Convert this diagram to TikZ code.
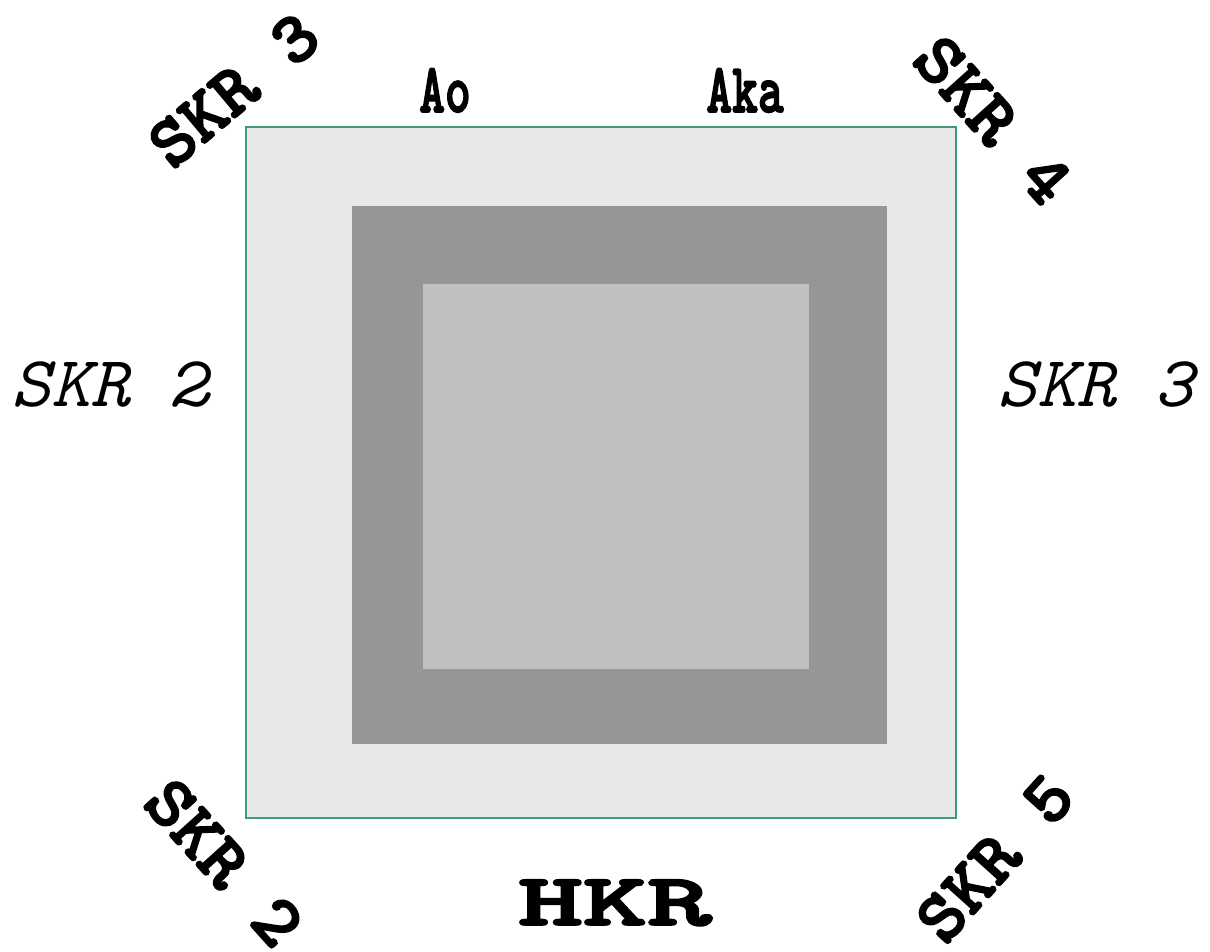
\documentclass[tikz,border=0pt]{standalone}
\usepackage{fontspec}
\usepackage{xcolor}
\newfontfamily\skrital{lmmono10-italic.otf}
\newfontfamily\skrbold{lmmonolt10-bold.otf}[FakeBold=2.5]
\definecolor{ringgreen}{RGB}{62,156,110}
\definecolor{outergray}{RGB}{232,232,232}
\definecolor{midgray}{RGB}{150,150,150}
\definecolor{innergray}{RGB}{192,192,192}

\begin{document}
\begin{tikzpicture}[x=1pt, y=-1pt,
  sidelbl/.style={inner sep=0pt, xscale=1.04,
                  font=\skrital\fontsize{72}{84}\selectfont},
  cornerlbl/.style={inner sep=0pt, font=\skrbold\fontsize{72}{84}\selectfont},
  toplbl/.style={inner sep=0pt, anchor=base, xscale=0.7,
                 font=\skrbold\fontsize{70}{82}\selectfont},
  baselbl/.style={inner sep=0pt, anchor=base, xscale=1.66,
                  font=\skrbold\fontsize{74}{88}\selectfont},
]
\useasboundingbox (0,0) rectangle (1210,951);

% Squares, outer to inner
\draw[ringgreen, line width=1.5pt, fill=outergray] (246,127) rectangle (956,818);
\fill[midgray]   (352,206) rectangle (887,744);
\fill[innergray] (423,284) rectangle (809,669);

% Top labels
\node[toplbl] (ao)  at (445,112) {Ao};
\node[toplbl] (aka) at (745,112) {Aka};

% Side labels
\node[sidelbl] (skrleft)  at (110,384) {SKR 2};
\node[sidelbl] (skrright) at (1096,384) {SKR 3};

% Corner labels
\node[cornerlbl, rotate=40, xscale=1.05]  (skrtl) at (234,90)  {SKR 3};
\node[cornerlbl, rotate=-48, xscale=1.05] (skrtr) at (993,120) {SKR 4};
\node[cornerlbl, rotate=-48, xscale=1.05] (skrbl) at (224,863) {SKR 2};
\node[cornerlbl, rotate=48, xscale=1.05]  (skrbr) at (995,858) {SKR 5};

% Bottom label
\node[baselbl] (hkr) at (615,925) {HKR};
\end{tikzpicture}
\end{document}
